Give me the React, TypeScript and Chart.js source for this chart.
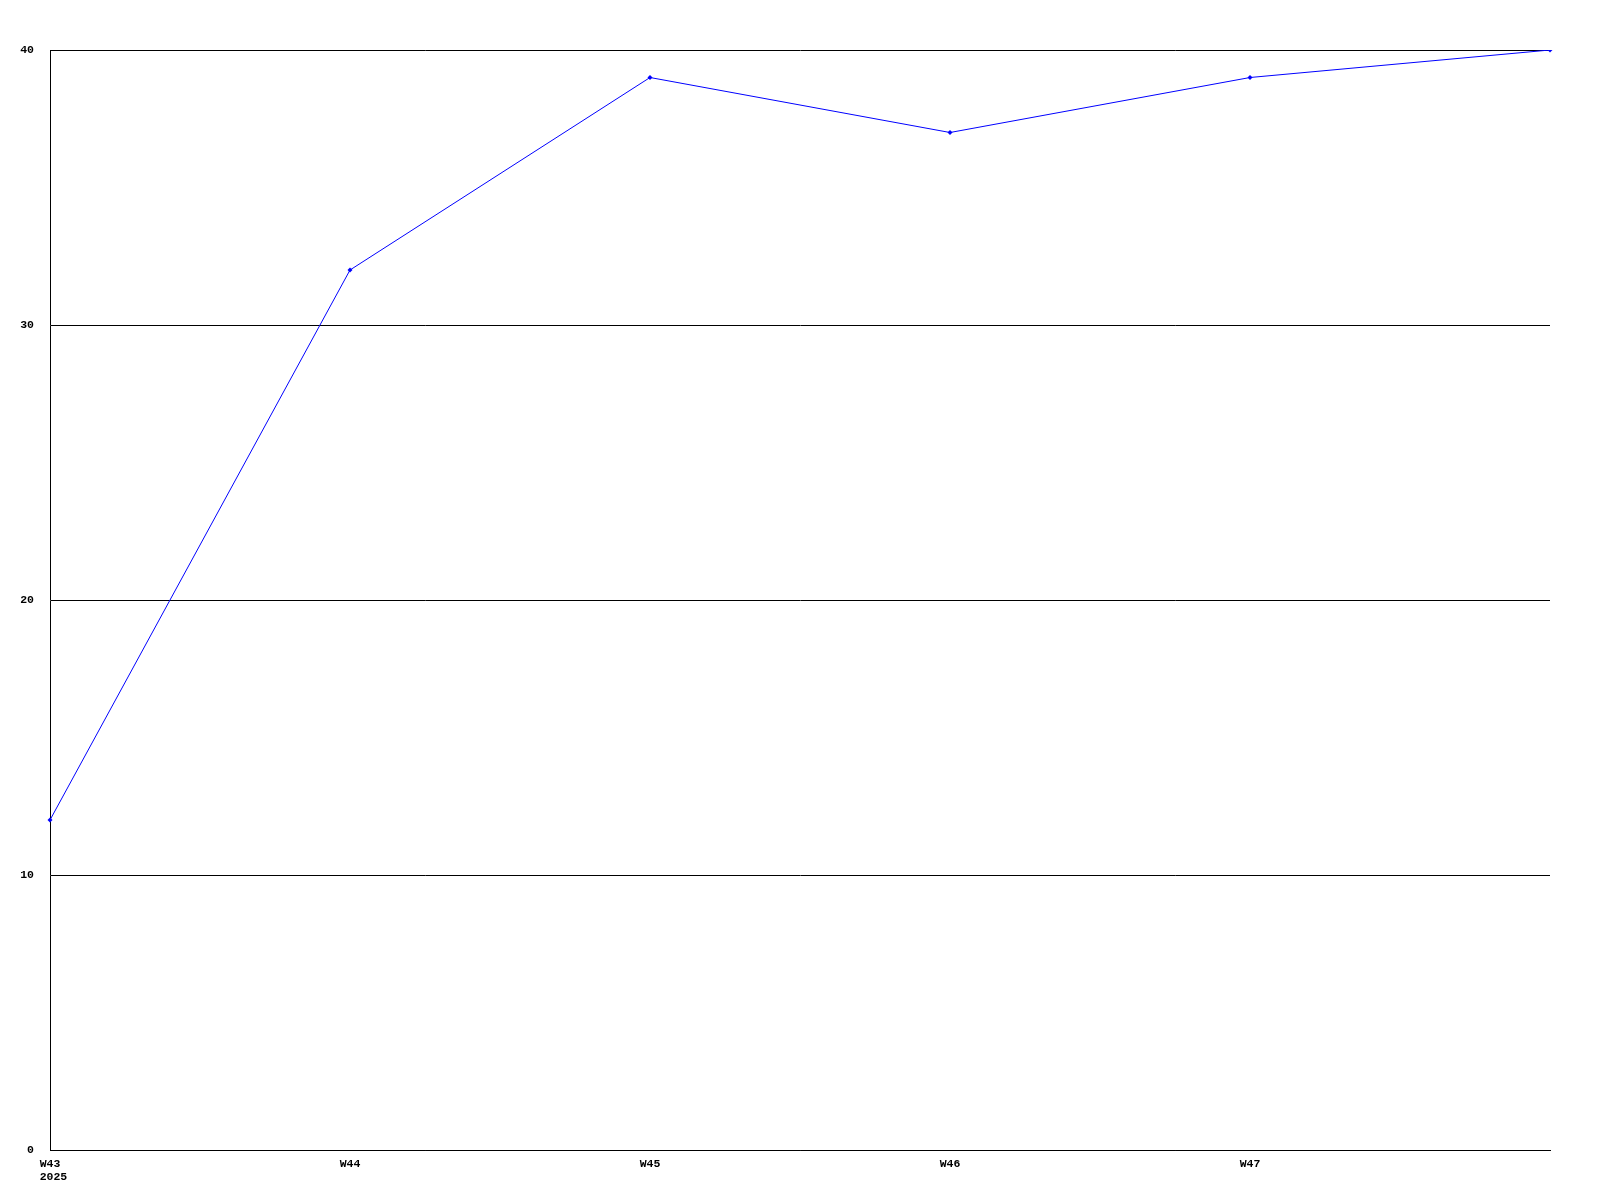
import React, { useEffect, useRef } from "react";
import { Chart, registerables } from "chart.js";

Chart.register(...registerables);

const categories = ["W43", "W44", "W45", "W46", "W47", "W48"];
const tickLabels: (string | string[])[] = [["W43", " 2025"], "W44", "W45", "W46", "W47", ""];
const seriesValues = [12, 32, 39, 37, 39, 40];
const yTicks = [0, 10, 20, 30, 40];

export default function App() {
  const ref = useRef<HTMLCanvasElement>(null);
  useEffect(() => {
    if (!ref.current) return;
    const font = {
      family: "'Liberation Mono', 'DejaVu Sans Mono', monospace",
      size: 11.5,
      weight: "bold" as const,
      lineHeight: "13.5px",
    };
    const chart = new Chart(ref.current, {
      type: "line",
      data: {
        labels: categories,
        datasets: [
          {
            data: seriesValues,
            borderColor: "#0000ff",
            backgroundColor: "#0000ff",
            borderWidth: 1,
            pointRadius: 2.5,
            pointStyle: "rectRot",
            pointBorderWidth: 0,
            tension: 0,
            fill: false,
          },
        ],
      },
      options: {
        responsive: false,
        animation: false,
        devicePixelRatio: 1,
        layout: { padding: { left: 0, top: 50, right: 50, bottom: 0 } },
        plugins: { legend: { display: false }, tooltip: { enabled: false }, title: { display: false } },
        scales: {
          x: {
            type: "category",
            offset: false,
            grid: { display: false, drawTicks: false },
            border: { display: true, color: "#000", width: 1 },
            ticks: {
              color: "#000",
              font,
              padding: 7,
              maxRotation: 0,
              autoSkip: false,
              callback: (_v: any, i: number) => tickLabels[i],
            },
            afterFit: (s: any) => {
              s.height = 50;
            },
          },
          y: {
            min: 0,
            max: 40,
            afterBuildTicks: (s: any) => {
              s.ticks = yTicks.map((v) => ({ value: v }));
            },
            grid: { color: "#000", lineWidth: 1, drawTicks: false },
            border: { display: true, color: "#000", width: 1 },
            ticks: { color: "#000", font, padding: 16 },
            afterFit: (s: any) => {
              s.width = 50;
            },
          },
        },
      },
    });
    return () => chart.destroy();
  }, []);
  return (
    <div style={{ position: "absolute", left: 0, top: 0, width: 1600, height: 1200, background: "#fff" }}>
      <canvas ref={ref} width={1600} height={1200} style={{ display: "block" }} />
    </div>
  );
}
